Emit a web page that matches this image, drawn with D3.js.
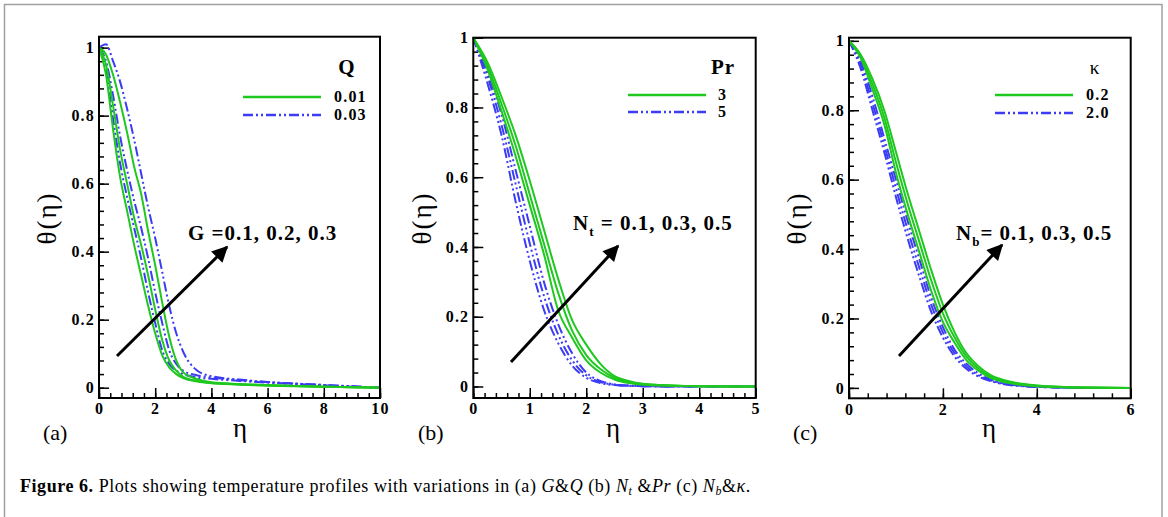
<!DOCTYPE html>
<html>
<head>
<meta charset="utf-8">
<script src="https://cdn.jsdelivr.net/npm/d3@7"></script>
<style>
body { margin: 0; background: #fff; }
svg { display: block; }
</style>
</head>
<body>
<div id="chart-area"></div>
<script>

let width = 1168,
height = 517;

// ---- data ----

// (a) G & Q
let etaA = [0, 0.25, 0.5, 0.75, 1, 1.25, 1.5, 1.75, 2, 2.25, 2.5, 2.75, 3, 3.5, 4, 5, 6, 7, 8, 9, 10]
let aG1Q1 = [1, 0.92, 0.76, 0.62, 0.52, 0.42, 0.33, 0.24, 0.16, 0.095, 0.06, 0.04, 0.028, 0.018, 0.013, 0.009, 0.006, 0.004, 0.003, 0.001, 0]
let aG2Q1 = [1, 0.95, 0.83, 0.70, 0.60, 0.50, 0.42, 0.33, 0.23, 0.14, 0.08, 0.05, 0.032, 0.02, 0.014, 0.01, 0.007, 0.005, 0.003, 0.001, 0]
let aG3Q1 = [1, 0.98, 0.92, 0.84, 0.75, 0.65, 0.57, 0.46, 0.36, 0.25, 0.15, 0.08, 0.045, 0.025, 0.016, 0.011, 0.008, 0.005, 0.003, 0.001, 0]
let aG1Q3 = [1, 0.93, 0.79, 0.66, 0.56, 0.47, 0.38, 0.28, 0.19, 0.11, 0.07, 0.05, 0.04, 0.03, 0.026, 0.02, 0.015, 0.011, 0.007, 0.003, 0]
let aG2Q3 = [1, 0.96, 0.86, 0.74, 0.64, 0.55, 0.47, 0.38, 0.28, 0.19, 0.11, 0.07, 0.05, 0.036, 0.03, 0.022, 0.016, 0.012, 0.008, 0.004, 0]
let aG3Q3 = [1, 1.01, 0.96, 0.90, 0.82, 0.73, 0.63, 0.53, 0.44, 0.34, 0.24, 0.16, 0.105, 0.05, 0.034, 0.024, 0.017, 0.012, 0.008, 0.004, 0]

// (b) Nt & Pr
let etaB = [0, 0.25, 0.5, 0.75, 1, 1.25, 1.5, 1.75, 2, 2.25, 2.5, 2.75, 3, 3.5, 4, 5]
let bN1P3 = [1, 0.91, 0.79, 0.66, 0.52, 0.38, 0.22, 0.14, 0.075, 0.04, 0.02, 0.01, 0.005, 0.002, 0.001, 0]
let bN3P3 = [1, 0.92, 0.81, 0.69, 0.55, 0.41, 0.27, 0.16, 0.09, 0.05, 0.025, 0.013, 0.007, 0.003, 0.001, 0]
let bN5P3 = [1, 0.93, 0.83, 0.72, 0.59, 0.45, 0.31, 0.19, 0.12, 0.065, 0.03, 0.016, 0.008, 0.003, 0.001, 0]
let bN1P5 = [1, 0.87, 0.72, 0.53, 0.36, 0.22, 0.125, 0.06, 0.025, 0.01, 0.004, 0.002, 0.001, 0, 0, 0]
let bN3P5 = [1, 0.89, 0.75, 0.58, 0.41, 0.26, 0.15, 0.075, 0.032, 0.013, 0.005, 0.002, 0.001, 0, 0, 0]
let bN5P5 = [1, 0.9, 0.78, 0.62, 0.46, 0.30, 0.18, 0.095, 0.04, 0.016, 0.006, 0.003, 0.001, 0, 0, 0]

// (c) Nb & kappa
let etaC = [0, 0.25, 0.5, 0.75, 1, 1.25, 1.5, 1.75, 2, 2.25, 2.5, 2.75, 3, 3.5, 4, 5, 6]
let cN1K02 = [1, 0.95, 0.86, 0.76, 0.62, 0.5, 0.39, 0.28, 0.19, 0.13, 0.08, 0.05, 0.03, 0.012, 0.005, 0.001, 0]
let cN3K02 = [1, 0.955, 0.875, 0.78, 0.65, 0.53, 0.42, 0.31, 0.215, 0.145, 0.09, 0.056, 0.034, 0.014, 0.006, 0.001, 0]
let cN5K02 = [1, 0.96, 0.89, 0.80, 0.68, 0.56, 0.45, 0.34, 0.24, 0.16, 0.10, 0.063, 0.038, 0.016, 0.007, 0.001, 0]
let cN1K20 = [1, 0.92, 0.80, 0.68, 0.55, 0.43, 0.32, 0.22, 0.145, 0.09, 0.055, 0.033, 0.02, 0.007, 0.003, 0, 0]
let cN3K20 = [1, 0.93, 0.82, 0.70, 0.575, 0.455, 0.345, 0.24, 0.16, 0.10, 0.062, 0.037, 0.022, 0.008, 0.003, 0, 0]
let cN5K20 = [1, 0.94, 0.84, 0.72, 0.60, 0.48, 0.37, 0.26, 0.175, 0.11, 0.07, 0.042, 0.025, 0.009, 0.004, 0, 0]

// ticks
let xTicksA = [0, 2, 4, 6, 8, 10]
let xTicksB = [0, 1, 2, 3, 4, 5]
let xTicksC = [0, 2, 4, 6]
let yTicks = [0, 0.2, 0.4, 0.6, 0.8, 1]
let yTickLabels = ['0', '0.2', '0.4', '0.6', '0.8', '1']

// legend / annotation texts
let legendTitles = ['Q', 'Pr', 'κ']
let legendLabelsA = ['0.01', '0.03']
let legendLabelsB = ['3', '5']
let legendLabelsC = ['0.2', '2.0']

let green = '#1ec81e'
let blue = '#3c3cf5'
let serif = '"Liberation Serif", "Times New Roman", serif'

let svg = d3.select('#chart-area').append('svg')
	.attr('width', width)
	.attr('height', height)

// outer frame
svg.append('rect')
	.attr('x', 4.5).attr('y', 4.5)
	.attr('width', 1157.5).attr('height', 530)
	.attr('fill', 'none')
	.attr('stroke', '#a0a0a0')
	.attr('stroke-width', 1.5)

let panels = [
	{
		box: [99, 36.7, 380, 398], xDom: [0, 10], yDom: [-0.0303, 1.0321],
		xTicks: xTicksA, xMinor: 0.4, eta: etaA,
		green: [aG1Q1, aG2Q1, aG3Q1], blue: [aG1Q3, aG2Q3, aG3Q3],
		title: legendTitles[0], titleBold: true, titleX: 347, labels: legendLabelsA,
		legX: [243, 321], legY: [97, 115], labX: 334,
		arrow: [117, 356, 227, 247],
		ann: { x: 188, y: 240, main: 'G', sub: '', rest: ' =0.1, 0.2, 0.3' },
		letter: '(a)', letterX: 43, thetaX: 47, etaX: 240
	},
	{
		box: [473.3, 37.7, 755.7, 398], xDom: [0, 5], yDom: [-0.033, 1.0],
		xTicks: xTicksB, xMinor: 0.2, eta: etaB,
		green: [bN1P3, bN3P3, bN5P3], blue: [bN1P5, bN3P5, bN5P5],
		title: legendTitles[1], titleBold: true, titleX: 723, labels: legendLabelsB,
		legX: [628, 706], legY: [95, 112], labX: 718,
		arrow: [511, 362, 618, 246],
		ann: { x: 573, y: 230, main: 'N', sub: 't', rest: ' = 0.1, 0.3, 0.5' },
		letter: '(b)', letterX: 418, thetaX: 422, etaX: 613
	},
	{
		box: [849, 37.7, 1130.7, 398.3], xDom: [0, 6], yDom: [-0.030, 1.009],
		xTicks: xTicksC, xMinor: 0.4, eta: etaC,
		green: [cN1K02, cN3K02, cN5K02], blue: [cN1K20, cN3K20, cN5K20],
		title: legendTitles[2], titleBold: false, titleX: 1095, labels: legendLabelsC,
		legX: [995, 1073], legY: [95, 113], labX: 1086,
		arrow: [899, 356, 1002, 245],
		ann: { x: 956, y: 240, main: 'N', sub: 'b', rest: '= 0.1, 0.3, 0.5' },
		letter: '(c)', letterX: 793, thetaX: 797, etaX: 989
	}
]

// arrow head
svg.append('defs').append('marker')
	.attr('id', 'head')
	.attr('viewBox', '0 0 10 10')
	.attr('refX', 9).attr('refY', 5)
	.attr('markerUnits', 'userSpaceOnUse')
	.attr('markerWidth', 26).attr('markerHeight', 16)
	.attr('orient', 'auto')
	.append('path')
	.attr('d', 'M0,0 L10,5 L0,10 Z')
	.attr('fill', '#000')

panels.forEach(p => {
	let [x0, y0, x1, y1] = p.box
	let x = d3.scaleLinear().domain(p.xDom).range([x0, x1])
	let y = d3.scaleLinear().domain(p.yDom).range([y1, y0])
	let g = svg.append('g')

	// minor ticks
	g.append('g')
		.attr('transform', `translate(0,${y1})`)
		.call(d3.axisBottom(x)
			.tickValues(d3.range(p.xDom[0], p.xDom[1] + 1e-9, p.xMinor))
			.tickSize(-5).tickFormat(''))
	g.append('g')
		.attr('transform', `translate(${x0},0)`)
		.call(d3.axisLeft(y)
			.tickValues(d3.range(0, 1.0001, 0.04))
			.tickSize(-5).tickFormat(''))

	// major ticks with labels
	g.append('g')
		.attr('transform', `translate(0,${y1})`)
		.call(d3.axisBottom(x).tickValues(p.xTicks).tickSize(-10).tickPadding(5)
			.tickFormat(d => String(d)))
	g.append('g')
		.attr('transform', `translate(${x0},0)`)
		.call(d3.axisLeft(y).tickValues(yTicks).tickSize(-10).tickPadding(4)
			.tickFormat((d, i) => yTickLabels[i]))

	g.selectAll('.domain').remove()
	g.selectAll('.tick line').attr('stroke', '#000').attr('stroke-width', 1.5)
	g.selectAll('.tick text')
		.attr('font-family', serif)
		.attr('font-weight', 'bold')
		.attr('font-size', 16)
		.attr('letter-spacing', 1.2)
		.attr('fill', '#000')

	// curves
	let line = d3.line()
		.x((d, i) => x(p.eta[i]))
		.y(d => y(d))
		.curve(d3.curveMonotoneX)

	p.blue.forEach(s => {
		g.append('path')
			.attr('d', line(s))
			.attr('fill', 'none')
			.attr('stroke', blue)
			.attr('stroke-width', 2)
			.attr('stroke-dasharray', '10,3,2,3,2,3')
	})
	p.green.forEach(s => {
		g.append('path')
			.attr('d', line(s))
			.attr('fill', 'none')
			.attr('stroke', green)
			.attr('stroke-width', 2)
	})

	// box
	g.append('rect')
		.attr('x', x0).attr('y', y0)
		.attr('width', x1 - x0).attr('height', y1 - y0)
		.attr('fill', 'none')
		.attr('stroke', '#000')
		.attr('stroke-width', 2)

	// legend
	g.append('text')
		.attr('x', p.titleX).attr('y', 74)
		.attr('text-anchor', 'middle')
		.attr('font-family', serif)
		.attr('font-weight', p.titleBold ? 'bold' : 'normal')
		.attr('font-size', p.titleBold ? 21 : 19)
		.attr('letter-spacing', 1)
		.text(p.title)
	let styles = [[green, null], [blue, '10,3,2,3,2,3']]
	p.labels.forEach((lab, i) => {
		g.append('line')
			.attr('x1', p.legX[0]).attr('x2', p.legX[1])
			.attr('y1', p.legY[i]).attr('y2', p.legY[i])
			.attr('stroke', styles[i][0])
			.attr('stroke-width', 2.5)
			.attr('stroke-dasharray', styles[i][1])
		g.append('text')
			.attr('x', p.labX).attr('y', p.legY[i] + 5)
			.attr('font-family', serif)
			.attr('font-weight', 'bold')
			.attr('font-size', 16)
			.attr('letter-spacing', 1.2)
			.text(lab)
	})

	// arrow
	g.append('line')
		.attr('x1', p.arrow[0]).attr('y1', p.arrow[1])
		.attr('x2', p.arrow[2]).attr('y2', p.arrow[3])
		.attr('stroke', '#000')
		.attr('stroke-width', 3)
		.attr('marker-end', 'url(#head)')

	let t = g.append('text')
		.attr('x', p.ann.x).attr('y', p.ann.y)
		.attr('font-family', serif)
		.attr('font-weight', 'bold')
		.attr('font-size', 21)
		.attr('letter-spacing', 1)
	t.append('tspan').text(p.ann.main)
	if (p.ann.sub) {
		t.append('tspan').attr('font-size', 13).attr('dy', 6).text(p.ann.sub)
		t.append('tspan').attr('dy', -6).text(p.ann.rest)
	} else {
		t.append('tspan').text(p.ann.rest)
	}

	// axis titles
	g.append('text')
		.attr('transform', `translate(${p.thetaX + 9},218) rotate(-90)`)
		.attr('text-anchor', 'middle')
		.attr('font-family', serif)
		.attr('font-size', 27)
		.attr('letter-spacing', 2)
		.text('θ(η)')
	g.append('text')
		.attr('x', p.etaX).attr('y', 437)
		.attr('text-anchor', 'middle')
		.attr('font-family', serif)
		.attr('font-size', 27)
		.text('η')
	g.append('text')
		.attr('x', p.letterX).attr('y', 440)
		.attr('font-family', serif)
		.attr('font-size', 22)
		.text(p.letter)
})

// caption
let cap = svg.append('text')
	.attr('x', 20).attr('y', 492)
	.attr('font-family', serif)
	.attr('font-size', 18)
	.attr('letter-spacing', 0.55)
cap.append('tspan').attr('font-weight', 'bold').text('Figure 6.')
cap.append('tspan').text(' Plots showing temperature profiles with variations in (a) ')
cap.append('tspan').attr('font-style', 'italic').text('G')
cap.append('tspan').text('&')
cap.append('tspan').attr('font-style', 'italic').text('Q')
cap.append('tspan').text(' (b) ')
cap.append('tspan').attr('font-style', 'italic').text('N')
cap.append('tspan').attr('font-style', 'italic').attr('font-size', 12).attr('dy', 3).text('t')
cap.append('tspan').attr('dy', -3).text(' &')
cap.append('tspan').attr('font-style', 'italic').text('Pr')
cap.append('tspan').text(' (c) ')
cap.append('tspan').attr('font-style', 'italic').text('N')
cap.append('tspan').attr('font-style', 'italic').attr('font-size', 12).attr('dy', 3).text('b')
cap.append('tspan').attr('dy', -3).text('&')
cap.append('tspan').attr('font-style', 'italic').text('κ')
cap.append('tspan').text('.')

</script>
</body>
</html>
